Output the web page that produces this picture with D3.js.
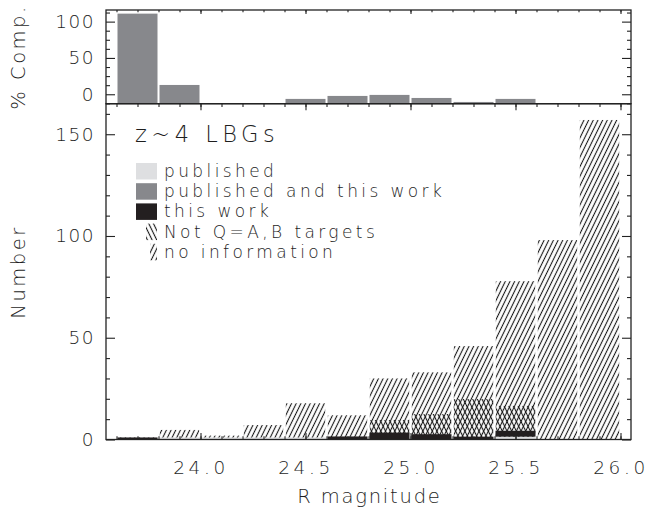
<!DOCTYPE html>
<html>
<head>
<meta charset="utf-8">
<script src="https://cdn.jsdelivr.net/npm/d3@7"></script>
<style>
  body { margin: 0; background: #fff; }
  svg text { font-family: "DejaVu Sans", sans-serif; font-weight: 200; fill: #1e1e1e; }
</style>
</head>
<body>
<div id="container"></div>
<script>
// left edge of every magnitude bin, bins are 0.2 mag wide
const binStart = [23.6, 23.8, 24.0, 24.2, 24.4, 24.6, 24.8, 25.0, 25.2, 25.4, 25.6, 25.8];
const binWidth = 0.2;

const compPct = [111, 12.8, null, null, -6.4, -2.3, -0.9, -5.1, -10.6, -6.4, null, null];

// bottom panel : number of objects per bin, stacked in this order
const published        = [0, 1, 1, 1, 1, 0, 0, 0, 0, 1.4, 0, 0];
const publishedAndThis = [0, 0, 0, 0, 0, 0, 0, 0, 0, 0, 0, 0];
const thisWork         = [1, 0, 0, 0, 0, 1.5, 3.4, 2.6, 1.4, 2.9, 0, 0];
const notQAB           = [0, 0, 0, 0, 0, 0, 6.2, 9.9, 18.5, 12.2, 0, 0];
const noInfo           = [0, 3.7, 0.9, 6.1, 16.8, 10.4, 20.4, 20.5, 26, 61.3, 98, 157];

// ticks
const xMajor = [24.0, 24.5, 25.0, 25.5, 26.0];
const xMinor = d3.range(236, 261).map(d => d / 10);
const topMajor = [0, 50, 100];
const topMinor = [-12.5, 12.5, 25, 37.5, 62.5, 75, 87.5, 112.5];
const botMajor = [0, 50, 100, 150];
const botMinor = d3.range(10, 170, 10).filter(d => d % 50 !== 0);

// legend entries
const legendLabels = ["published", "published and this work", "this work", "Not Q=A,B targets", "no information"];

// the whole page is one svg
const W = 648, H = 516;
const INK = "#232323";
const svg = d3.select("#container").append("svg").attr("width", W).attr("height", H);

// frame boxes of both panels (pixels)
const left = 106, right = 631;
const topY0 = 10, topY1 = 103.7, botY1 = 439.5;

const x = d3.scaleLinear().domain([23.55, 26.05]).range([left, right]);
const yTop = d3.scaleLinear().domain([-13, 116]).range([topY1, topY0]);
const yBot = d3.scaleLinear().domain([0, 165]).range([botY1, topY1]);

// hatch patterns, "/" for no information and "\" for not Q=A,B
const defs = svg.append("defs");
function hatch(id, angle, gap) {
  const p = defs.append("pattern")
    .attr("id", id)
    .attr("patternUnits", "userSpaceOnUse")
    .attr("width", gap).attr("height", 10)
    .attr("patternTransform", "rotate(" + angle + ")");
  p.append("line")
    .attr("x1", gap / 2).attr("x2", gap / 2)
    .attr("y1", -1).attr("y2", 11)
    .attr("stroke", "#161616").attr("stroke-width", 1.1);
}
hatch("fwd", 26, 4.2);
hatch("back", -26, 4.2);

// ---------- top panel bars ----------
svg.append("g").selectAll("rect")
  .data(binStart.map((b, i) => ({ b: b, v: compPct[i] })).filter(d => d.v !== null))
  .join("rect")
  .attr("x", d => x(d.b) + 1)
  .attr("width", d => x(d.b + binWidth) - x(d.b) - 2)
  .attr("y", d => yTop(d.v))
  .attr("height", d => topY1 - yTop(d.v))
  .attr("fill", "#87888c");

// ---------- bottom panel stacked bars ----------
const keys = ["published", "publishedAndThis", "thisWork", "notQAB", "noInfo"];
const rows = binStart.map((b, i) => ({
  bin: b,
  published: published[i],
  publishedAndThis: publishedAndThis[i],
  thisWork: thisWork[i],
  notQAB: notQAB[i],
  noInfo: noInfo[i]
}));
const stacked = d3.stack().keys(keys)(rows);
const bx = d => x(d.data.bin) + 1.3;
const bw = d => x(d.data.bin + binWidth) - x(d.data.bin) - 2.6;

const bars = svg.append("g");
// "/" hatch runs from zero to the top of the whole column
bars.append("g").selectAll("rect")
  .data(stacked[4].filter(d => d[1] > 0))
  .join("rect")
  .attr("x", bx).attr("width", bw)
  .attr("y", d => yBot(d[1]))
  .attr("height", d => yBot(0) - yBot(d[1]))
  .attr("fill", "url(#fwd)");
// "\" hatch from zero to the top of the not Q=A,B part, gives the cross hatch
bars.append("g").selectAll("rect")
  .data(stacked[3].filter(d => d[1] > d[0]))
  .join("rect")
  .attr("x", bx).attr("width", bw)
  .attr("y", d => yBot(d[1]))
  .attr("height", d => yBot(0) - yBot(d[1]))
  .attr("fill", "url(#back)");
// solid parts on top
const solidColors = ["#dedfe1", "#87888c", "#231f20"];
[0, 1, 2].forEach(k => {
  bars.append("g").selectAll("rect")
    .data(stacked[k].filter(d => d[1] > d[0]))
    .join("rect")
    .attr("x", d => x(d.data.bin) + 1).attr("width", d => x(d.data.bin + binWidth) - x(d.data.bin) - 2)
    .attr("y", d => yBot(d[1]))
    .attr("height", d => yBot(d[0]) - yBot(d[1]))
    .attr("fill", solidColors[k]);
});

// ---------- frames and ticks ----------
function frame(y0, y1) {
  svg.append("rect")
    .attr("x", left).attr("y", y0)
    .attr("width", right - left).attr("height", y1 - y0)
    .attr("fill", "none").attr("stroke", INK).attr("stroke-width", 1.3);
}
frame(topY0, topY1);
frame(topY1, botY1);

// little helper, all ticks point inside the box
function ticks(axis, tx, ty, size, values, scale) {
  const g = svg.append("g").attr("transform", "translate(" + tx + "," + ty + ")")
    .call(axis(scale).tickValues(values).tickSize(-size).tickFormat(""));
  g.select(".domain").remove();
  g.selectAll("line").attr("stroke", INK).attr("stroke-width", 1.1);
}
// x ticks : bottom of both panels (pointing up), top of both panels (pointing down)
ticks(d3.axisBottom, 0, botY1, 6.5, xMajor, x);
ticks(d3.axisBottom, 0, botY1, 3.2, xMinor, x);
ticks(d3.axisTop, 0, topY1, 6.5, xMajor, x);
ticks(d3.axisTop, 0, topY1, 3.2, xMinor, x);
ticks(d3.axisTop, 0, topY0, 4, xMajor, x);
ticks(d3.axisTop, 0, topY0, 2.2, xMinor, x);
// y ticks on left and right
ticks(d3.axisLeft, left, 0, 9, topMajor, yTop);
ticks(d3.axisLeft, left, 0, 4, topMinor, yTop);
ticks(d3.axisRight, right, 0, 9, topMajor, yTop);
ticks(d3.axisRight, right, 0, 4, topMinor, yTop);
ticks(d3.axisLeft, left, 0, 9, botMajor, yBot);
ticks(d3.axisLeft, left, 0, 4, botMinor, yBot);
ticks(d3.axisRight, right, 0, 9, botMajor, yBot);
ticks(d3.axisRight, right, 0, 4, botMinor, yBot);

// tick labels
function labels(axis, tx, ty, values, scale, fmt, pad, ls) {
  const g = svg.append("g").attr("transform", "translate(" + tx + "," + ty + ")")
    .call(axis(scale).tickValues(values).tickSize(0).tickPadding(pad).tickFormat(fmt));
  g.select(".domain").remove();
  g.attr("font-family", null).attr("font-size", null);
  g.selectAll("text")
    .attr("font-size", 18.5)
    .attr("letter-spacing", ls)
    .attr("fill", "#1e1e1e");
}
labels(d3.axisLeft, left, 0, topMajor, yTop, d3.format("d"), 11, 1.5);
labels(d3.axisLeft, left, 0, botMajor, yBot, d3.format("d"), 11, 1.5);
labels(d3.axisBottom, 0, botY1, xMajor, x, d3.format(".1f"), 21, 3.6);

// axis titles
svg.append("text")
  .attr("x", (left + right) / 2 + 1).attr("y", 503)
  .attr("text-anchor", "middle")
  .attr("font-size", 19.5).attr("letter-spacing", 1.8)
  .text("R magnitude");
svg.append("text")
  .attr("transform", "translate(25,272) rotate(-90)")
  .attr("text-anchor", "middle")
  .attr("font-size", 19.5).attr("letter-spacing", 2.5)
  .text("Number");
svg.append("text")
  .attr("transform", "translate(25,57) rotate(-90)")
  .attr("text-anchor", "middle")
  .attr("font-size", 19.5).attr("letter-spacing", 2.5)
  .text("% Comp.");

// ---------- legend ----------
svg.append("text")
  .attr("x", 135).attr("y", 142)
  .attr("font-size", 22.5).attr("letter-spacing", 4.5)
  .text("z~4 LBGs");

const legendFill = ["#dedfe1", "#87888c", "#231f20", "url(#back)", "url(#fwd)"];
const legendSwatchX = [136, 136, 136, 146, 150];
const lg = svg.append("g");
legendLabels.forEach((t, i) => {
  const yy = 163 + i * 20.2;
  lg.append("rect")
    .attr("x", legendSwatchX[i]).attr("y", yy)
    .attr("width", 157 - legendSwatchX[i]).attr("height", 16.5)
    .attr("fill", legendFill[i]);
  lg.append("text")
    .attr("x", 164).attr("y", yy + 14)
    .attr("font-size", 17).attr("letter-spacing", 3.4)
    .text(t);
});
</script>
</body>
</html>
